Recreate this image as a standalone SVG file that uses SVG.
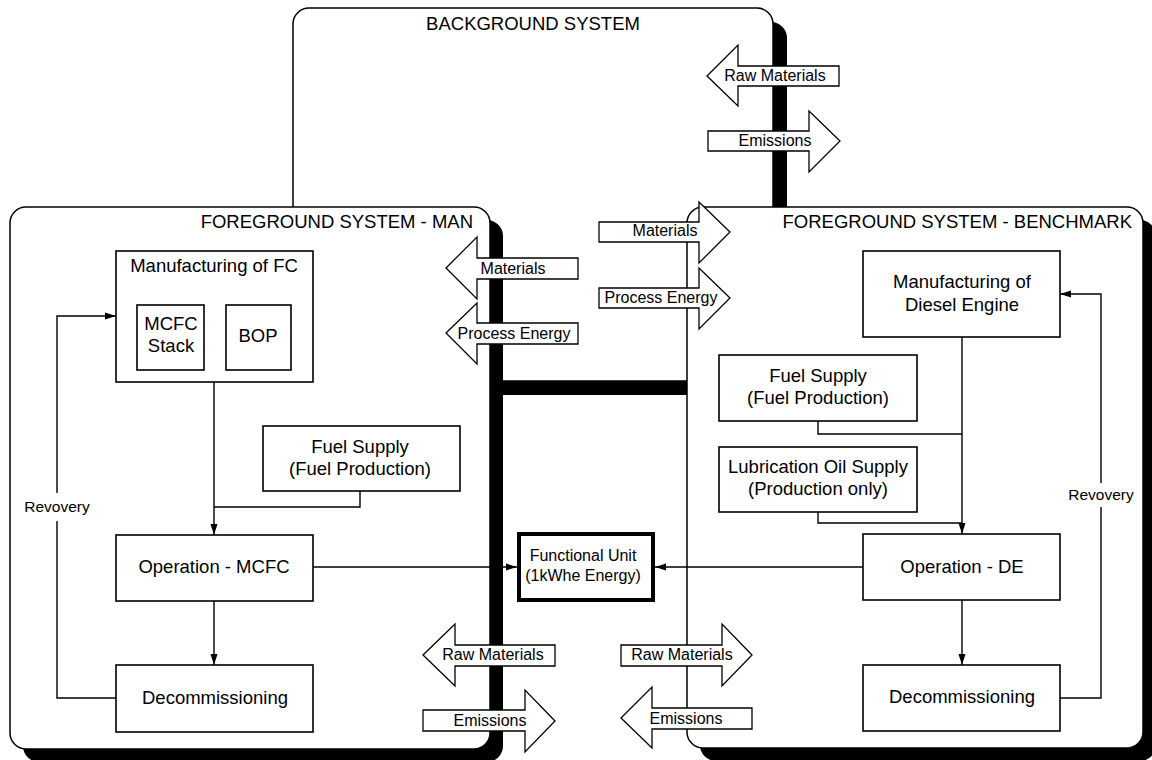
<svg xmlns="http://www.w3.org/2000/svg" width="1152" height="760" viewBox="0 0 1152 760">
<defs>
<marker id="ah" markerUnits="userSpaceOnUse" markerWidth="12" markerHeight="9" refX="11" refY="4" orient="auto">
<path d="M0,0.5 L11,4 L0,7.5 z" fill="#000"/>
</marker>
<style>
.sys{fill:#fff;stroke:#000;stroke-width:1.5}
.shd{fill:#000}
.box{fill:#fff;stroke:#000;stroke-width:1.6}
.t{font-family:"Liberation Sans",Arial,Helvetica,sans-serif;font-size:18.5px;fill:#000;text-anchor:middle}
.ttl{font-family:"Liberation Sans",Arial,Helvetica,sans-serif;font-size:18.5px;fill:#000}
.s{font-family:"Liberation Sans",Arial,Helvetica,sans-serif;font-size:16px;fill:#000;text-anchor:middle}
.c{fill:none;stroke:#000;stroke-width:1.4}
.ba{fill:#fff;stroke:#000;stroke-width:1.3}
</style>
</defs>
<rect width="1152" height="760" fill="#fff"/>

<g id="background-system">
<rect class="shd" x="307" y="22" width="480" height="373" rx="16"/>
<rect class="sys" x="293" y="8" width="480" height="373" rx="16"/>
<text class="ttl" x="533" y="30" text-anchor="middle">BACKGROUND SYSTEM</text>
</g>

<g id="foreground-man">
<rect class="shd" x="23" y="220" width="480" height="542" rx="16"/>
<rect class="sys" x="10" y="207" width="480" height="542" rx="16"/>
<text class="ttl" x="473" y="228" text-anchor="end">FOREGROUND SYSTEM - MAN</text>
</g>

<g id="foreground-benchmark">
<rect class="shd" x="700" y="220" width="456" height="541" rx="16"/>
<rect class="sys" x="687" y="207" width="456" height="541" rx="16"/>
<text class="ttl" x="1132" y="228" text-anchor="end">FOREGROUND SYSTEM - BENCHMARK</text>
</g>

<g id="mfg-fc">
<rect class="box" x="116" y="251" width="197" height="131"/>
<text class="t" x="214" y="272">Manufacturing of FC</text>
</g>
<g id="mcfc-stack">
<rect class="box" x="137" y="305" width="67" height="65"/>
<text class="t" x="171" y="330">MCFC</text>
<text class="t" x="171" y="352">Stack</text>
</g>
<g id="bop">
<rect class="box" x="226" y="305" width="65" height="65"/>
<text class="t" x="258" y="342">BOP</text>
</g>
<g id="fuel-man">
<rect class="box" x="263" y="426" width="197" height="65"/>
<text class="t" x="360" y="453">Fuel Supply</text>
<text class="t" x="360" y="475">(Fuel Production)</text>
</g>
<g id="op-mcfc">
<rect class="box" x="116" y="535" width="197" height="66"/>
<text class="t" x="214" y="573">Operation - MCFC</text>
</g>
<g id="decom-man">
<rect class="box" x="116" y="665" width="197" height="67"/>
<text class="t" x="215" y="704">Decommissioning</text>
</g>

<g id="functional-unit">
<rect x="519" y="534" width="134" height="66" fill="#fff" stroke="#000" stroke-width="4"/>
<text class="s" x="583" y="561">Functional Unit</text>
<text class="s" x="583" y="581">(1kWhe Energy)</text>
</g>

<g id="mfg-de">
<rect class="box" x="863" y="251" width="197" height="86"/>
<text class="t" x="962" y="288">Manufacturing of</text>
<text class="t" x="962" y="311">Diesel Engine</text>
</g>
<g id="fuel-de">
<rect class="box" x="719" y="355" width="198" height="66"/>
<text class="t" x="818" y="382">Fuel Supply</text>
<text class="t" x="818" y="404">(Fuel Production)</text>
</g>
<g id="lube">
<rect class="box" x="719" y="447" width="198" height="65"/>
<text class="t" x="818" y="473">Lubrication Oil Supply</text>
<text class="t" x="818" y="495">(Production only)</text>
</g>
<g id="op-de">
<rect class="box" x="863" y="534" width="197" height="66"/>
<text class="t" x="962" y="573">Operation - DE</text>
</g>
<g id="decom-de">
<rect class="box" x="863" y="665" width="197" height="66"/>
<text class="t" x="962" y="703">Decommissioning</text>
</g>

<g id="connectors">
<path class="c" d="M214,382 V535" marker-end="url(#ah)"/>
<path class="c" d="M360,491 V507 H214"/>
<path class="c" d="M214,601 V665" marker-end="url(#ah)"/>
<path class="c" d="M116,698 H57 V521 M57,493 V316 H116" marker-end="url(#ah)"/>
<text class="s" x="57" y="512" style="font-size:15.5px">Revovery</text>
<path class="c" d="M313,567 H517" marker-end="url(#ah)"/>
<path class="c" d="M863,567 H655" marker-end="url(#ah)"/>
<path class="c" d="M962,337 V534" marker-end="url(#ah)"/>
<path class="c" d="M818,421 V434 H962"/>
<path class="c" d="M818,512 V523 H962"/>
<path class="c" d="M962,600 V665" marker-end="url(#ah)"/>
<path class="c" d="M1060,698 H1101 V507 M1101,483 V294 H1060" marker-end="url(#ah)"/>
<text class="s" x="1101" y="500" style="font-size:15.5px">Revovery</text>
</g>

<g id="flow-arrows">
<polygon class="ba" points="707,76 738,45 738,66 839,66 839,86 738,86 738,106"/>
<text class="s" x="775" y="81">Raw Materials</text>
<polygon class="ba" points="840,141 809,111 809,131 708,131 708,151 809,151 809,172"/>
<text class="s" x="775" y="146">Emissions</text>

<polygon class="ba" points="446,268 477,237 477,258 578,258 578,279 477,279 477,299"/>
<text class="s" x="513" y="274">Materials</text>
<polygon class="ba" points="446,333 477,303 477,323 578,323 578,344 477,344 477,364"/>
<text class="s" x="514" y="339">Process Energy</text>

<polygon class="ba" points="730,232 699,202 699,222 599,222 599,242 699,242 699,263"/>
<text class="s" x="665" y="236">Materials</text>
<polygon class="ba" points="730,298 699,268 699,288 599,288 599,308 699,308 699,329"/>
<text class="s" x="661" y="303">Process Energy</text>

<polygon class="ba" points="423,655 455,624 455,645 555,645 555,666 455,666 455,686"/>
<text class="s" x="493" y="660">Raw Materials</text>
<polygon class="ba" points="555,721 525,690 525,710 423,710 423,731 525,731 525,752"/>
<text class="s" x="490" y="726">Emissions</text>

<polygon class="ba" points="752,655 722,624 722,645 621,645 621,666 722,666 722,686"/>
<text class="s" x="682" y="660">Raw Materials</text>
<polygon class="ba" points="621,718 652,687 652,708 752,708 752,729 652,729 652,748"/>
<text class="s" x="686" y="724">Emissions</text>
</g>
</svg>
